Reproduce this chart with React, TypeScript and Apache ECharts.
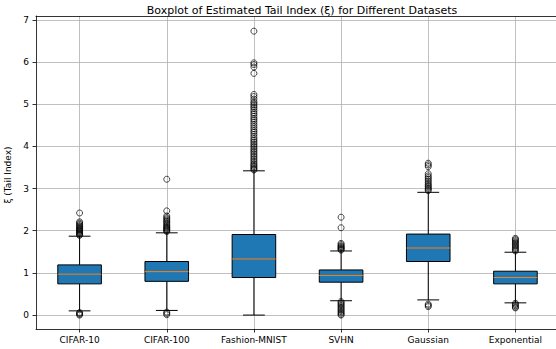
import React, { useEffect, useRef } from "react";
import * as echarts from "echarts";

const categories = ["CIFAR-10", "CIFAR-100", "Fashion-MNIST", "SVHN", "Gaussian", "Exponential"];
const whiskerLow = [0.1, 0.11, 0.0, 0.34, 0.36, 0.29];
const q1 = [0.74, 0.8, 0.89, 0.78, 1.27, 0.74];
const median = [0.97, 1.03, 1.33, 0.94, 1.59, 0.89];
const q3 = [1.19, 1.27, 1.91, 1.07, 1.92, 1.04];
const whiskerHigh = [1.87, 1.95, 3.42, 1.52, 2.91, 1.49];

const cifar10Outliers = [2.42, 2.21, 2.18, 2.15, 2.12, 2.1, 2.07, 2.05, 2.03, 2.01, 1.99, 1.97, 1.95, 1.93, 1.91, 1.89, 0.06, 0.04, 0.02, 0.0];
const cifar100Outliers = [3.22, 2.47, 2.35, 2.31, 2.28, 2.25, 2.22, 2.19, 2.16, 2.13, 2.1, 2.08, 2.06, 2.04, 2.02, 2.0, 1.98, 0.07, 0.04, 0.01];
const fashionOutliers = [6.73, 5.98, 5.94, 5.88, 5.73, 5.23, 5.18, 5.12, 5.06, 5.02, 4.98, 4.94, 4.9, 4.85, 4.8, 4.76, 4.71, 4.66, 4.62, 4.57, 4.52, 4.47, 4.42, 4.37, 4.33, 4.28, 4.23, 4.18, 4.14, 4.1, 4.06, 4.02, 3.98, 3.94, 3.9, 3.86, 3.82, 3.78, 3.74, 3.7, 3.66, 3.62, 3.58, 3.55, 3.52, 3.49, 3.46, 3.44];
const svhnOutliers = [2.32, 2.07, 1.7, 1.67, 1.64, 1.62, 1.6, 1.58, 1.56, 1.54, 0.32, 0.29, 0.26, 0.23, 0.2, 0.17, 0.14, 0.11, 0.08, 0.05, 0.02, 0.0];
const gaussianOutliers = [3.6, 3.56, 3.52, 3.35, 3.3, 3.26, 3.22, 3.18, 3.14, 3.1, 3.07, 3.04, 3.01, 2.98, 2.95, 0.26, 0.23, 0.2];
const exponentialOutliers = [1.82, 1.79, 1.76, 1.73, 1.7, 1.67, 1.64, 1.61, 1.58, 1.55, 1.52, 0.28, 0.25, 0.22, 0.19, 0.17];

const outliers = [cifar10Outliers, cifar100Outliers, fashionOutliers, svhnOutliers, gaussianOutliers, exponentialOutliers];

const yTicks = [0, 1, 2, 3, 4, 5, 6, 7];
const xTicks = [1, 2, 3, 4, 5, 6];

const FONT = "DejaVu Sans";
const BOX_WIDTH = 0.5;

export default function App() {
  const ref = useRef<HTMLDivElement>(null);

  useEffect(() => {
    if (!ref.current) return;
    const chart = echarts.init(ref.current, null, { renderer: "svg" });

    const boxData = categories.map((_, i) => [i + 1, whiskerLow[i], q1[i], median[i], q3[i], whiskerHigh[i]]);
    const outlierData: number[][] = [];
    outliers.forEach((arr, i) => arr.forEach((v) => outlierData.push([i + 1, v])));

    chart.setOption({
      animation: false,
      backgroundColor: "#ffffff",
      title: {
        text: "Boxplot of Estimated Tail Index (ξ) for Different Datasets",
        left: 297,
        top: 0,
        textAlign: "center",
        textStyle: { fontFamily: FONT, fontSize: 11, fontWeight: "normal", color: "#000" },
      },
      grid: { left: 36, top: 16, width: 523, height: 313, containLabel: false, outerBoundsMode: "none" },
      xAxis: [
        {
          type: "value",
          min: 0.5,
          max: 6.5,
          splitNumber: 6,
          axisLine: { show: true, onZero: false, lineStyle: { color: "#000", width: 0.8 } },
          axisTick: { show: true, customValues: xTicks, length: 3.5, lineStyle: { color: "#000", width: 0.8 } },
          axisLabel: {
            customValues: xTicks,
            margin: 6,
            fontFamily: FONT,
            fontSize: 9,
            color: "#000",
            formatter: (v: number) => categories[Math.round(v) - 1] ?? "",
          },
          splitLine: { show: true, lineStyle: { color: "#b0b0b0", width: 0.8 } },
        },
        {
          type: "value",
          position: "top",
          min: 0.5,
          max: 6.5,
          axisLine: { show: true, onZero: false, lineStyle: { color: "#000", width: 0.8 } },
          axisTick: { show: false },
          axisLabel: { show: false },
          splitLine: { show: false },
        },
      ],
      yAxis: {
        type: "value",
        min: -0.33,
        max: 7.09,
        splitNumber: 8,
        name: "ξ (Tail Index)",
        nameLocation: "middle",
        nameRotate: 90,
        nameGap: 16,
        nameTextStyle: { fontFamily: FONT, fontSize: 9, color: "#000", padding: [0, 0, 0, -5] },
        axisLine: { show: true, onZero: false, lineStyle: { color: "#000", width: 0.8 } },
        axisTick: { show: true, customValues: yTicks, length: 3.5, lineStyle: { color: "#000", width: 0.8 } },
        axisLabel: { customValues: yTicks, margin: 7, fontFamily: FONT, fontSize: 9, color: "#000" },
        splitLine: { show: true, lineStyle: { color: "#b0b0b0", width: 0.8 } },
      },
      series: [
        {
          type: "custom",
          xAxisIndex: 0,
          z: 3,
          data: boxData,
          encode: { x: 0, y: [1, 2, 3, 4, 5] },
          renderItem: (_params: any, api: any) => {
            const x = api.value(0);
            const lo = api.coord([x, api.value(1)]);
            const b1 = api.coord([x, api.value(2)]);
            const md = api.coord([x, api.value(3)]);
            const b3 = api.coord([x, api.value(4)]);
            const hi = api.coord([x, api.value(5)]);
            const w = api.size([BOX_WIDTH, 0])[0];
            const cx = lo[0];
            const lineStyle = { stroke: "#000", lineWidth: 1 };
            return {
              type: "group",
              children: [
                { type: "line", shape: { x1: cx, y1: lo[1], x2: cx, y2: b1[1] }, style: lineStyle },
                { type: "line", shape: { x1: cx, y1: b3[1], x2: cx, y2: hi[1] }, style: lineStyle },
                { type: "line", shape: { x1: cx - w / 4, y1: lo[1], x2: cx + w / 4, y2: lo[1] }, style: lineStyle },
                { type: "line", shape: { x1: cx - w / 4, y1: hi[1], x2: cx + w / 4, y2: hi[1] }, style: lineStyle },
                {
                  type: "rect",
                  shape: { x: cx - w / 2, y: b3[1], width: w, height: b1[1] - b3[1] },
                  style: { fill: "#1f77b4", stroke: "#000", lineWidth: 1 },
                },
                { type: "line", shape: { x1: cx - w / 2, y1: md[1], x2: cx + w / 2, y2: md[1] }, style: { stroke: "#ff7f0e", lineWidth: 1 } },
              ],
            };
          },
        },
        {
          type: "scatter",
          xAxisIndex: 0,
          z: 4,
          data: outlierData,
          symbol: "circle",
          symbolSize: 6,
          itemStyle: { color: "rgba(0,0,0,0)", borderColor: "#000", borderWidth: 0.9 },
        },
      ],
    });

    return () => chart.dispose();
  }, []);

  return <div ref={ref} style={{ position: "fixed", left: 0, top: 0, width: 556, height: 349 }} />;
}
